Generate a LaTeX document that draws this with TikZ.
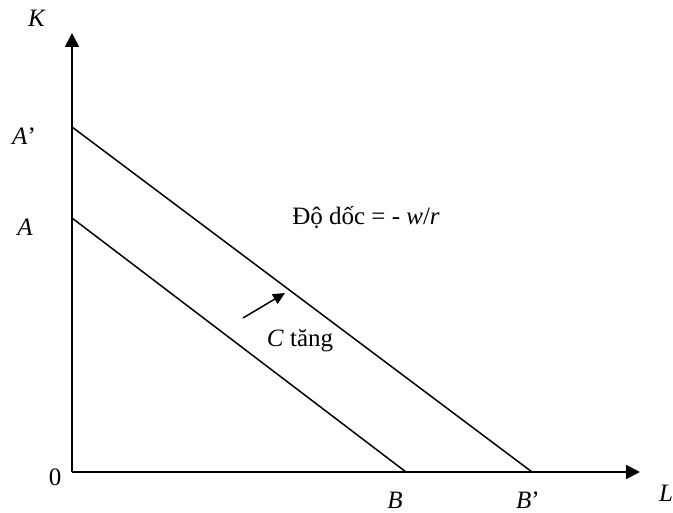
\documentclass[tikz,border=0pt]{standalone}
\usepackage{fontspec}
\setmainfont{Liberation Serif}
\usetikzlibrary{arrows.meta,positioning,calc}

\begin{document}
\begin{tikzpicture}[x=1pt, y=-1pt,
  lbl/.style={inner sep=0pt, font=\fontsize{25}{29}\selectfont},
  axis/.style={line width=1.9pt, -{Triangle[length=14pt,width=14pt]}},
  budget/.style={line width=1.5pt},
  >={Triangle[length=12pt,width=11pt]}]
  \useasboundingbox (0,0) rectangle (673,513);
  % axes
  \coordinate (O) at (72,472);
  \coordinate (Ktop) at (72,33);
  \coordinate (Lend) at (640,472);
  \draw[axis] (O) -- (Ktop);
  \draw[axis] (O) -- (Lend);
  % intercepts
  \coordinate (A)  at (72,218);
  \coordinate (Ap) at (72,127);
  \coordinate (B)  at (406,472);
  \coordinate (Bp) at (532,472);
  \draw[budget] (A) -- (B);
  \draw[budget] (Ap) -- (Bp);
  % labels
  \node[lbl] (lK)  at (37,18)   {\textit{K}};
  \node[lbl] (lL)  at (666,493) {\textit{L}};
  \node[lbl] (l0)  at (55,477)  {0};
  \node[lbl] (lA)  at (25,227)  {\textit{A}};
  \node[lbl] (lAp) at (24,136)  {\textit{A}’};
  \node[lbl] (lB)  at (395,500) {\textit{B}};
  \node[lbl] (lBp) at (528,500) {\textit{B}’};
  \node[lbl] (slope) at (366,218) {Độ dốc = - \textit{w}/\textit{r}};
  % shift
  \coordinate (cs) at (243,318);
  \coordinate (ce) at (285,293);
  \draw[->, line width=1.5pt] (cs) -- (ce);
  \node[lbl] (shift) at (300,341) {\textit{C} tăng};
\end{tikzpicture}
\end{document}
